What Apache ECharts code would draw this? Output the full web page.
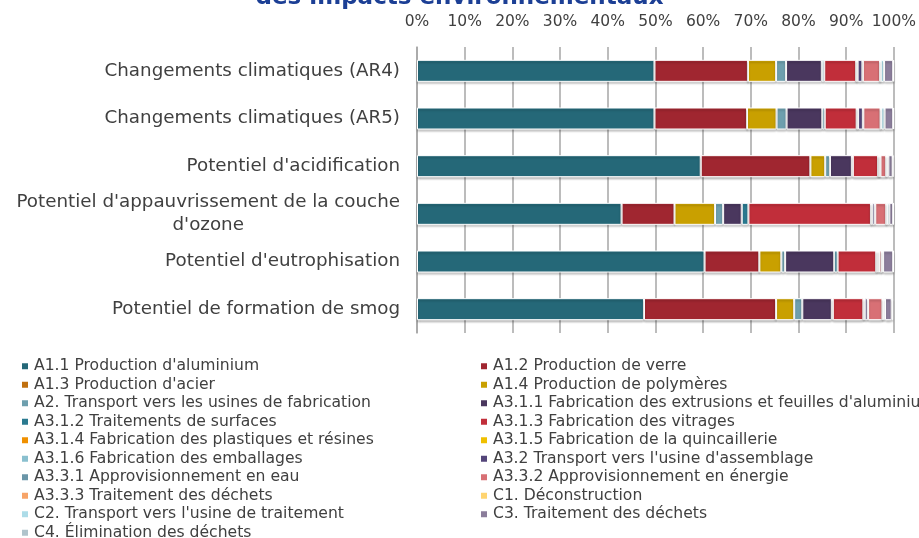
<!DOCTYPE html>
<html>
<head>
<meta charset="utf-8">
<script src="https://cdn.jsdelivr.net/npm/echarts@6/dist/echarts.min.js"></script>
<style>
html,body{margin:0;padding:0;background:#fff;}
#chart{width:919px;height:538px;}
</style>
</head>
<body>
<div id="chart"></div>
<script>
// ---- Data (percent share of each life-cycle stage per impact) ----
var categories = [
  "Changements climatiques (AR4)",
  "Changements climatiques (AR5)",
  "Potentiel d'acidification",
  "Potentiel d'appauvrissement de la couche\nd'ozone",
  "Potentiel d'eutrophisation",
  "Potentiel de formation de smog"
];
var tickLabels = ["0%","10%","20%","30%","40%","50%","60%","70%","80%","90%","100%"];

var seriesNames = [
  "A1.1 Production d'aluminium",
  "A1.2 Production de verre",
  "A1.3 Production d'acier",
  "A1.4 Production de polymères",
  "A2. Transport vers les usines de fabrication",
  "A3.1.1 Fabrication des extrusions et feuilles d'aluminium",
  "A3.1.2 Traitements de surfaces",
  "A3.1.3 Fabrication des vitrages",
  "A3.1.4 Fabrication des plastiques et résines",
  "A3.1.5 Fabrication de la quincaillerie",
  "A3.1.6 Fabrication des emballages",
  "A3.2 Transport vers l'usine d'assemblage",
  "A3.3.1 Approvisionnement en eau",
  "A3.3.2 Approvisionnement en énergie",
  "A3.3.3 Traitement des déchets",
  "C1. Déconstruction",
  "C2. Transport vers l'usine de traitement",
  "C3. Traitement des déchets",
  "C4. Élimination des déchets"
];

var a1_1   = [49.8, 49.8, 59.5, 42.9, 60.3, 47.6];
var a1_2   = [19.6, 19.4, 23.0, 11.1, 11.5, 27.7];
var a1_3   = [0, 0, 0, 0, 0, 0];
var a1_4   = [5.9, 6.2, 3.1, 8.5, 4.6, 3.8];
var a2     = [2.1, 2.1, 1.0, 1.7, 0.8, 1.7];
var a3_1_1 = [7.5, 7.5, 4.6, 3.9, 10.3, 6.2];
var a3_1_2 = [0.5, 0.5, 0.2, 1.4, 0.7, 0.2];
var a3_1_3 = [6.7, 6.7, 5.3, 25.7, 8.1, 6.4];
var a3_1_4 = [0.1, 0.1, 0.1, 0.1, 0.1, 0.1];
var a3_1_5 = [0.1, 0.1, 0.1, 0.1, 0.1, 0.1];
var a3_1_6 = [0.1, 0.1, 0.1, 0.1, 0.1, 0.1];
var a3_2   = [1.0, 1.0, 0.1, 0.5, 0.2, 0.6];
var a3_3_1 = [0.1, 0.1, 0.1, 0.1, 0.1, 0.1];
var a3_3_2 = [3.6, 3.6, 1.2, 2.3, 0.5, 3.0];
var a3_3_3 = [0.05, 0.05, 0.05, 0.05, 0.05, 0.05];
var c1     = [0.1, 0.1, 0.1, 0.1, 0.1, 0.1];
var c2     = [0.7, 0.7, 0.3, 0.5, 0.2, 0.4];
var c3     = [1.9, 1.8, 0.9, 0.8, 2.1, 1.4];
var c4     = [0.2, 0.2, 0.15, 0.15, 0.15, 0.3];

var seriesValues = [a1_1, a1_2, a1_3, a1_4, a2, a3_1_1, a3_1_2, a3_1_3, a3_1_4,
  a3_1_5, a3_1_6, a3_2, a3_3_1, a3_3_2, a3_3_3, c1, c2, c3, c4];

var colors = ["#256878", "#A02630", "#C07010", "#C9A000", "#6E9FAE", "#4A375E",
  "#2A7A90", "#C12E3A", "#F09000", "#F0C000", "#8AC0CF", "#54457A", "#6A96A8",
  "#D87075", "#F7A468", "#FFD470", "#ADDCE8", "#8B7D9B", "#B0C4CC"];

var FONT = "DejaVu Sans";
var TXT = "#404040";

var series = seriesNames.map(function (name, i) {
  return {
    name: name,
    type: 'bar',
    stack: 'total',
    barWidth: 22,
    data: seriesValues[i],
    itemStyle: {
      color: colors[i],
      borderColor: '#ffffff',
      borderWidth: 1,
      shadowColor: 'rgba(0,0,0,0.22)',
      shadowBlur: 2,
      shadowOffsetY: 2
    },
    emphasis: { disabled: true }
  };
});

var leftNames = seriesNames.filter(function (n, i) { return i % 2 === 0; });
var rightNames = seriesNames.filter(function (n, i) { return i % 2 === 1; });

var legendCommon = {
  orient: 'vertical',
  top: 357,
  height: 260,
  padding: 0,
  itemWidth: 8,
  itemHeight: 8,
  itemGap: 0,
  icon: 'rect',
  selectedMode: false,
  textStyle: { fontFamily: FONT, fontSize: 15.6, color: TXT, lineHeight: 18.5 }
};

var chart = echarts.init(document.getElementById('chart'), null, { renderer: 'canvas' });
chart.setOption({
  animation: false,
  title: {
    text: 'des impacts environnementaux',
    left: 'center',
    top: -13,
    padding: 0,
    textStyle: { fontFamily: FONT, fontSize: 23, fontWeight: 'bold', color: '#1C3F95' }
  },
  grid: { left: 417, right: 20, top: 47, height: 286, containLabel: false },
  legend: [
    Object.assign({}, legendCommon, { left: 20, data: leftNames }),
    Object.assign({}, legendCommon, { left: 479, width: 600, data: rightNames })
  ],
  xAxis: {
    type: 'value',
    position: 'top',
    min: 0,
    max: 100,
    interval: 10,
    axisLine: { show: false },
    axisTick: { show: false },
    splitLine: { show: true, lineStyle: { color: '#A6A6A6', width: 1.5 } },
    axisLabel: {
      fontFamily: FONT, fontSize: 15.5, color: TXT, margin: 17,
      formatter: function (v) { return tickLabels[Math.round(v / 10)]; }
    }
  },
  yAxis: {
    type: 'category',
    inverse: true,
    data: categories,
    axisLine: { show: true, lineStyle: { color: '#A6A6A6', width: 1.5 } },
    axisTick: { show: false },
    axisLabel: {
      fontFamily: FONT, fontSize: 18.3, color: TXT, margin: 17, lineHeight: 23,
      formatter: function (v) {
        var parts = v.split('\n');
        if (parts.length > 1) return parts[0] + '\n{c|' + parts[1] + '}';
        return v;
      },
      rich: { c: { align: 'center', fontFamily: FONT, fontSize: 18.3, color: TXT, lineHeight: 23 } }
    }
  },
  series: series
});
</script>
</body>
</html>
